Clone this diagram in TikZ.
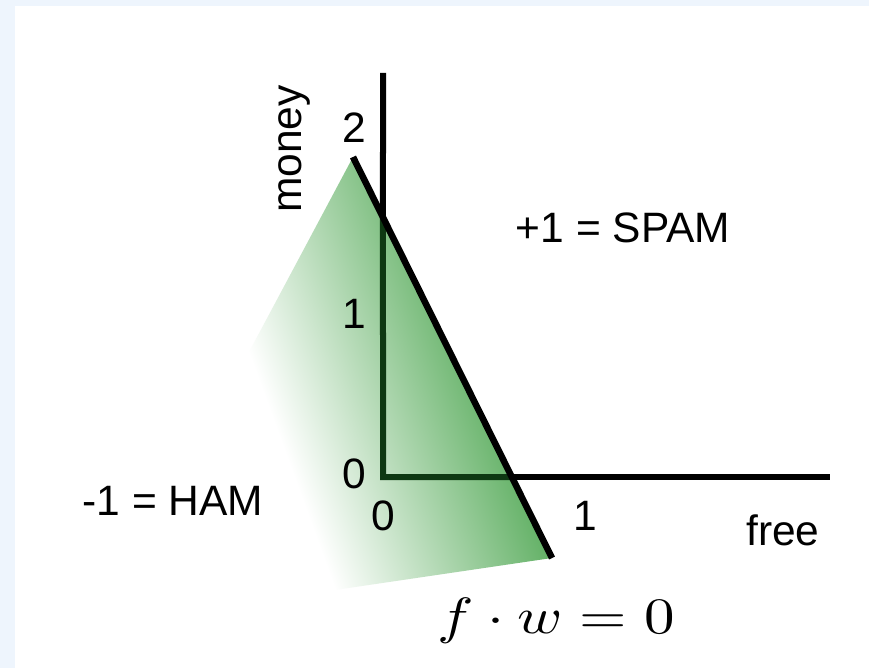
\documentclass[tikz,border=0pt]{standalone}
\usepackage[no-math]{fontspec}
\newfontfamily\arial{Liberation Sans}
\usetikzlibrary{calc}
\definecolor{bgblue}{RGB}{238,245,253}
\definecolor{fadegreen}{RGB}{95,175,98}
\definecolor{axisgreen}{RGB}{14,56,18}
\tikzset{
  lbl/.style={font=\arial\fontsize{42.5}{50}\selectfont, inner sep=0pt, text=black},
  axisline/.style={line width=6pt},
  boundary/.style={line width=6.5pt},
}
\begin{document}
\begin{tikzpicture}[x=1pt,y=-1pt]
\fill[bgblue] (0,0) rectangle (869,668);
\fill[white] (15,6) rectangle (869,668);
\useasboundingbox (0,0) rectangle (869,668);

\coordinate (o) at (383,477);
\coordinate (ytop) at (383,73);
\coordinate (xend) at (830,477);
\coordinate (ltop) at (353,157);
\coordinate (lbot) at (552,558);
\coordinate (gleft) at (104,624);
\coordinate (yx) at (intersection of ltop--lbot and o--ytop);
\coordinate (xx) at (intersection of ltop--lbot and o--xend);

% axes outside the shaded region
\draw[axisline] (yx) -- (ytop);
\draw[axisline] (xx) -- (xend);

% shaded half-plane
\begin{scope}
  \clip (ltop) -- (lbot) -- (gleft) -- cycle;
  \begin{scope}[transform canvas={rotate around={20:(450,400)}}]
    \shade[left color=white, right color=fadegreen] (277,0) rectangle (497,800);
  \end{scope}
\end{scope}

% axes inside the shaded region
\draw[axisline, axisgreen] (yx) -- (o) -- (xx);

% decision boundary
\draw[boundary] (ltop) -- (lbot);

% labels
\node[lbl, anchor=base] (l2) at (354,143) {2};
\node[lbl, anchor=base] (l1y) at (354,328) {1};
\node[lbl, anchor=base] (l0y) at (354,488) {0};
\node[lbl, anchor=base] (l0x) at (383,530) {0};
\node[lbl, anchor=base] (l1x) at (585,530) {1};
\node[lbl, anchor=base, rotate=90] (money) at (301,149) {money};
\node[lbl, anchor=base] (free) at (783,545) {free};
\node[lbl, anchor=base] (spam) at (623,242) {+1 = SPAM};
\node[lbl, anchor=base] (ham) at (173,515) {-1 = HAM};
\node[inner sep=0pt, anchor=base] (eq) at (556,633)
  {\scalebox{6.1}[5.1]{$f\cdot w=0$}};
\end{tikzpicture}
\end{document}
